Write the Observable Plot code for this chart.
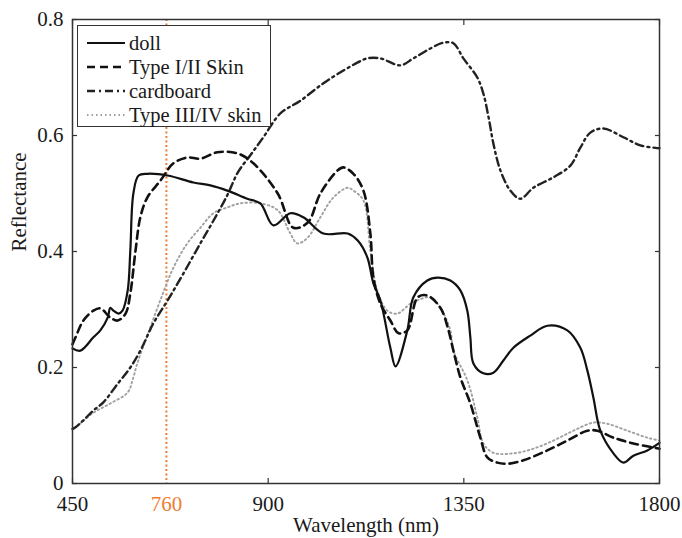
<!DOCTYPE html>
<html>
<head>
<meta charset="utf-8">
<script src="https://cdn.jsdelivr.net/npm/d3@7"></script>
<script src="https://cdn.jsdelivr.net/npm/@observablehq/plot@0.6"></script>
<style>
  body { margin: 0; background: #fff; }
  #wrap { position: relative; width: 682px; height: 538px; font-family: "Liberation Serif", "Times New Roman", Times, serif; }
  #legend { position: absolute; left: 77px; top: 25px; width: 192px; height: 100px; background: #fff;
            border: 1.5px solid #333; box-sizing: content-box; }
  .row { position: absolute; left: 0; height: 24px; display: flex; align-items: center; font-size: 20.5px; color: #1a1a1a; white-space: nowrap; }
  .row svg { margin-left: 8px; margin-right: 3px; }
</style>
</head>
<body>
<div id="wrap"><div id="chart"></div><div id="legend"></div></div>
<script>
// ---- data ----
const xTicks = [450, 900, 1350, 1800];
const yTicks = [0, 0.2, 0.4, 0.6, 0.8];
// the reference draws its orange "760" marker at this position on the wavelength axis
const markerPosition = [666];
const markerLabel = "760";

const dollX = [450, 468, 498, 514, 531, 537, 544, 556, 565, 577, 583, 590, 602, 622, 669, 728, 767, 806, 852, 882, 912, 951, 981, 1027, 1083, 1106, 1128, 1142, 1158, 1181, 1193, 1220, 1234, 1266, 1290, 1319, 1342, 1358, 1365, 1372, 1395, 1418, 1441, 1464, 1503, 1542, 1588, 1618, 1634, 1648, 1664, 1694, 1717, 1740, 1772, 1800];
const dollY = [0.233, 0.229, 0.252, 0.264, 0.286, 0.303, 0.298, 0.293, 0.298, 0.333, 0.402, 0.500, 0.531, 0.534, 0.531, 0.519, 0.514, 0.505, 0.491, 0.483, 0.445, 0.466, 0.459, 0.431, 0.431, 0.419, 0.390, 0.345, 0.316, 0.234, 0.202, 0.264, 0.321, 0.350, 0.355, 0.350, 0.333, 0.298, 0.252, 0.207, 0.190, 0.191, 0.212, 0.234, 0.255, 0.272, 0.264, 0.234, 0.195, 0.148, 0.091, 0.052, 0.036, 0.048, 0.057, 0.070];

const skin12X = [450, 457, 475, 498, 514, 537, 554, 572, 583, 595, 606, 622, 652, 682, 714, 744, 783, 830, 866, 922, 958, 991, 1020, 1060, 1073, 1096, 1119, 1135, 1142, 1158, 1181, 1200, 1220, 1244, 1266, 1296, 1313, 1326, 1342, 1365, 1388, 1404, 1427, 1451, 1487, 1542, 1588, 1634, 1657, 1694, 1740, 1800];
const skin12Y = [0.240, 0.252, 0.281, 0.298, 0.302, 0.286, 0.281, 0.293, 0.328, 0.402, 0.459, 0.493, 0.522, 0.552, 0.562, 0.560, 0.571, 0.569, 0.552, 0.500, 0.441, 0.450, 0.500, 0.540, 0.545, 0.534, 0.505, 0.431, 0.355, 0.310, 0.281, 0.259, 0.264, 0.321, 0.324, 0.303, 0.269, 0.229, 0.183, 0.138, 0.079, 0.045, 0.036, 0.034, 0.040, 0.057, 0.074, 0.091, 0.091, 0.079, 0.069, 0.060];

const cardX = [450, 457, 475, 498, 521, 554, 583, 606, 636, 669, 705, 744, 774, 806, 830, 859, 889, 928, 974, 1027, 1073, 1106, 1128, 1158, 1204, 1234, 1273, 1303, 1326, 1349, 1381, 1395, 1407, 1418, 1434, 1457, 1480, 1510, 1556, 1595, 1618, 1641, 1671, 1717, 1756, 1800];
const cardY = [0.094, 0.097, 0.109, 0.126, 0.140, 0.172, 0.200, 0.229, 0.276, 0.316, 0.362, 0.414, 0.453, 0.497, 0.536, 0.566, 0.597, 0.638, 0.660, 0.690, 0.712, 0.726, 0.733, 0.733, 0.721, 0.733, 0.750, 0.760, 0.759, 0.733, 0.700, 0.672, 0.631, 0.586, 0.540, 0.505, 0.491, 0.510, 0.528, 0.548, 0.579, 0.605, 0.612, 0.597, 0.583, 0.578];

const skin34X = [450, 457, 498, 537, 577, 588, 599, 622, 652, 682, 714, 744, 774, 806, 836, 882, 922, 951, 967, 991, 1020, 1050, 1083, 1096, 1119, 1135, 1151, 1174, 1197, 1227, 1244, 1273, 1296, 1319, 1326, 1358, 1381, 1395, 1418, 1464, 1510, 1556, 1602, 1648, 1680, 1726, 1772, 1800];
const skin34Y = [0.094, 0.097, 0.122, 0.138, 0.157, 0.178, 0.207, 0.255, 0.316, 0.372, 0.414, 0.441, 0.466, 0.476, 0.483, 0.483, 0.471, 0.431, 0.414, 0.424, 0.459, 0.493, 0.510, 0.505, 0.488, 0.402, 0.333, 0.298, 0.293, 0.310, 0.316, 0.321, 0.303, 0.264, 0.229, 0.178, 0.114, 0.069, 0.053, 0.052, 0.060, 0.074, 0.091, 0.105, 0.103, 0.091, 0.079, 0.074];

const seriesNames = ["doll", "Type I/II Skin", "cardboard", "Type III/IV skin"];

// ---- styles ----
const styles = {
  "doll": {stroke: "#111", strokeWidth: 2.2, dash: null},
  "Type I/II Skin": {stroke: "#111", strokeWidth: 2.6, dash: "8,5"},
  "cardboard": {stroke: "#222", strokeWidth: 2.4, dash: "8,4,2,4"},
  "Type III/IV skin": {stroke: "#a0a0a0", strokeWidth: 1.9, dash: "1.5,3"}
};
const orange = "#ef7d32";
const font = "'Liberation Serif', 'Times New Roman', Times, serif";
const fs = 21;
const ink = "#1a1a1a";

const toRows = (xs, ys) => xs.map((x, i) => ({x, y: ys[i]}));
const series = {
  "doll": toRows(dollX, dollY),
  "Type I/II Skin": toRows(skin12X, skin12Y),
  "cardboard": toRows(cardX, cardY),
  "Type III/IV skin": toRows(skin34X, skin34Y)
};

const lineMarks = seriesNames.slice().reverse().map(name => Plot.line(series[name], {
  x: "x", y: "y", curve: "catmull-rom",
  stroke: styles[name].stroke, strokeWidth: styles[name].strokeWidth,
  strokeDasharray: styles[name].dash ?? undefined,
  strokeLinejoin: "round"
}));

const chart = Plot.plot({
  width: 682, height: 538,
  marginLeft: 72, marginRight: 23, marginTop: 19, marginBottom: 55,
  style: {fontFamily: font, fontSize: fs + "px", color: ink, background: "white"},
  x: {domain: [450, 1800]},
  y: {domain: [0, 0.8]},
  marks: [
    Plot.ruleX(markerPosition, {stroke: orange, strokeWidth: 2, strokeDasharray: "2,2.5"}),
    ...lineMarks,
    Plot.frame({stroke: "#333", strokeWidth: 1.5}),
    // inward tick marks on all four sides
    Plot.axisX({ticks: xTicks, tickSize: -5, tickFormat: () => "", label: null, stroke: "#333", strokeWidth: 1.2}),
    Plot.axisX({anchor: "top", ticks: xTicks, tickSize: -5, tickFormat: () => "", label: null, stroke: "#333", strokeWidth: 1.2}),
    Plot.axisY({ticks: yTicks, tickSize: -5, tickFormat: () => "", label: null, stroke: "#333", strokeWidth: 1.2}),
    Plot.axisY({anchor: "right", ticks: yTicks, tickSize: -5, tickFormat: () => "", label: null, stroke: "#333", strokeWidth: 1.2}),
    // tick labels
    Plot.axisX({ticks: xTicks, tickSize: 0, tickPadding: 13, label: null, fontSize: fs, fill: ink, tickFormat: d => String(d)}),
    Plot.axisX({ticks: markerPosition, tickSize: 0, tickPadding: 13, label: null, fontSize: fs, fill: orange, tickFormat: () => markerLabel}),
    Plot.axisY({ticks: yTicks, tickSize: 0, tickPadding: 9, label: null, fontSize: fs, fill: ink, tickFormat: d => d === 0 ? "0" : d3.format(".1f")(d)}),
    // axis titles
    Plot.text(["Wavelength (nm)"], {frameAnchor: "bottom", dy: 48, text: d => d, fontSize: fs, fill: ink}),
    Plot.text(["Reflectance"], {frameAnchor: "left", dx: -53, rotate: -90, text: d => d, fontSize: fs, fill: ink})
  ]
});
document.getElementById("chart").appendChild(chart);

// ---- legend (HTML overlay) ----
const legend = document.getElementById("legend");
seriesNames.forEach((name, i) => {
  const s = styles[name];
  const row = document.createElement("div");
  row.className = "row";
  row.style.top = (5 + i * 24) + "px";
  row.innerHTML = `<svg width="40" height="10"><line x1="1" y1="5" x2="39" y2="5" stroke="${s.stroke}" stroke-width="${s.strokeWidth}" ${s.dash ? `stroke-dasharray="${s.dash}"` : ""}/></svg><span>${name}</span>`;
  legend.appendChild(row);
});
</script>
</body>
</html>
